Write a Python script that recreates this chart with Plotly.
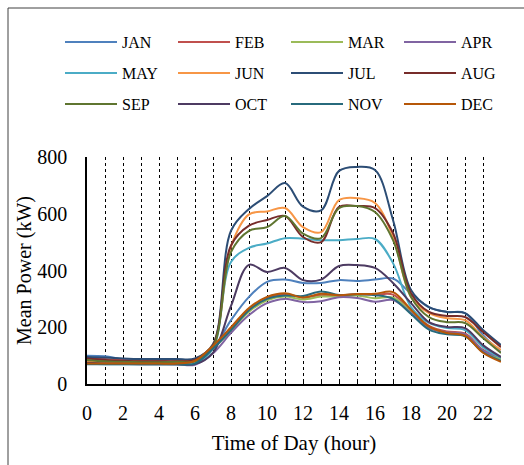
import plotly.graph_objects as go

# Hour of day
hours = list(range(24))

# Mean power per month (kW), one value per hour
jan = [100, 98, 88, 86, 85, 84, 84, 125, 225, 307, 360, 368, 356, 356, 366, 363, 368, 372, 318, 270, 254, 250, 172, 112]
feb = [92, 88, 84, 82, 80, 80, 80, 125, 195, 262, 302, 316, 305, 313, 312, 316, 315, 315, 258, 205, 185, 178, 120, 92]
mar = [85, 82, 80, 78, 77, 77, 78, 125, 188, 255, 295, 308, 298, 308, 308, 312, 302, 305, 255, 200, 180, 172, 115, 88]
apr = [75, 73, 72, 72, 71, 70, 68, 108, 180, 243, 285, 300, 289, 292, 306, 303, 290, 296, 250, 198, 182, 175, 118, 95]
may = [72, 70, 70, 70, 70, 70, 72, 125, 430, 480, 495, 514, 512, 507, 507, 511, 511, 426, 271, 215, 197, 190, 130, 92]
jun = [80, 78, 77, 77, 77, 78, 88, 140, 485, 598, 608, 620, 553, 535, 648, 655, 638, 518, 307, 250, 232, 225, 166, 120]
jul = [95, 93, 90, 88, 88, 88, 90, 140, 540, 617, 662, 708, 625, 612, 751, 765, 754, 578, 331, 271, 254, 250, 190, 137]
aug = [90, 85, 82, 80, 80, 80, 85, 135, 488, 558, 578, 592, 518, 500, 624, 627, 620, 532, 320, 254, 240, 236, 183, 130]
sep = [85, 80, 78, 77, 77, 78, 80, 130, 465, 540, 553, 592, 530, 514, 620, 627, 606, 507, 307, 236, 218, 215, 162, 109]
oct_ = [75, 72, 71, 70, 70, 70, 70, 110, 275, 420, 395, 409, 366, 368, 416, 419, 409, 356, 285, 218, 201, 197, 137, 95]
nov = [70, 70, 70, 70, 70, 70, 72, 125, 190, 260, 300, 312, 310, 326, 314, 316, 313, 300, 247, 192, 175, 168, 112, 82]
dec = [72, 72, 72, 72, 72, 72, 82, 135, 200, 268, 307, 320, 305, 318, 313, 317, 318, 324, 262, 202, 180, 170, 110, 78]

month_names = ["JAN", "FEB", "MAR", "APR", "MAY", "JUN",
               "JUL", "AUG", "SEP", "OCT", "NOV", "DEC"]
month_values = [jan, feb, mar, apr, may, jun, jul, aug, sep, oct_, nov, dec]
month_colors = ["#4F81BD", "#C0504D", "#9BBB59", "#8064A2", "#4BACC6", "#F79646",
                "#2C4D75", "#772C2A", "#5F7530", "#4D3B62", "#276A7C", "#B65708"]

W, H = 524, 465
ML, MR, MT, MB = 87, 23, 157, 81
PW, PH = W - ML - MR, H - MT - MB

def px_x(p):
    return (p - ML) / PW

def px_y(p):
    return (H - MB - p) / PH

FONT = "Liberation Serif"

fig = go.Figure()
legend_ids = ["legend", "legend2", "legend3"]
for i, (name, vals, col) in enumerate(zip(month_names, month_values, month_colors)):
    fig.add_trace(go.Scatter(
        x=hours, y=vals, name=name, mode="lines",
        line=dict(color=col, width=2, shape="spline", smoothing=1),
        legend=legend_ids[i // 4],
    ))

# one legend per row, four entries each
legend_rows_px = [42, 73, 104]
legend_common = dict(
    orientation="h", xanchor="left", yanchor="middle",
    x=px_x(60), entrywidth=46, entrywidthmode="pixels",
    itemwidth=52, font=dict(family=FONT, size=16, color="black"),
    bgcolor="rgba(0,0,0,0)", borderwidth=0, itemclick=False,
)
legends = {}
for lid, ypx in zip(legend_ids, legend_rows_px):
    legends[lid] = dict(legend_common, y=px_y(ypx))

fig.update_layout(
    width=W, height=H,
    margin=dict(l=ML, r=MR, t=MT, b=MB, autoexpand=False),
    paper_bgcolor="white", plot_bgcolor="white",
    font=dict(family=FONT, size=20, color="black"),
    showlegend=True,
    **legends,
    xaxis=dict(
        range=[0, 23], tick0=0, dtick=2,
        showgrid=True, gridcolor="black", gridwidth=1, griddash="3px,3px",
        minor=dict(dtick=1, showgrid=True, gridcolor="black", gridwidth=1,
                   griddash="3px,3px", ticks="inside", ticklen=4, tickcolor="black"),
        ticks="inside", ticklen=4, tickcolor="black",
        showline=True, linecolor="black", linewidth=2,
        zeroline=False, ticklabelstandoff=10,
        tickfont=dict(family=FONT, size=20, color="black"),
        title=dict(text="Time of Day (hour)", font=dict(family=FONT, size=21, color="black"),
                   standoff=12),
    ),
    yaxis=dict(
        range=[0, 800], dtick=200, showgrid=False, zeroline=False,
        showline=True, linecolor="black", linewidth=1.5,
        ticks="", ticklabelstandoff=14,
        tickfont=dict(family=FONT, size=20, color="black"),
        title=dict(text="Mean Power (kW)", font=dict(family=FONT, size=20, color="black"),
                   standoff=0),
    ),
    shapes=[dict(
        type="rect", xref="paper", yref="paper", layer="below",
        x0=px_x(8), x1=px_x(W + 20), y0=px_y(H + 20), y1=px_y(8),
        line=dict(color="#404040", width=1), fillcolor="rgba(0,0,0,0)",
    )],
)

fig.write_html("out.html")
